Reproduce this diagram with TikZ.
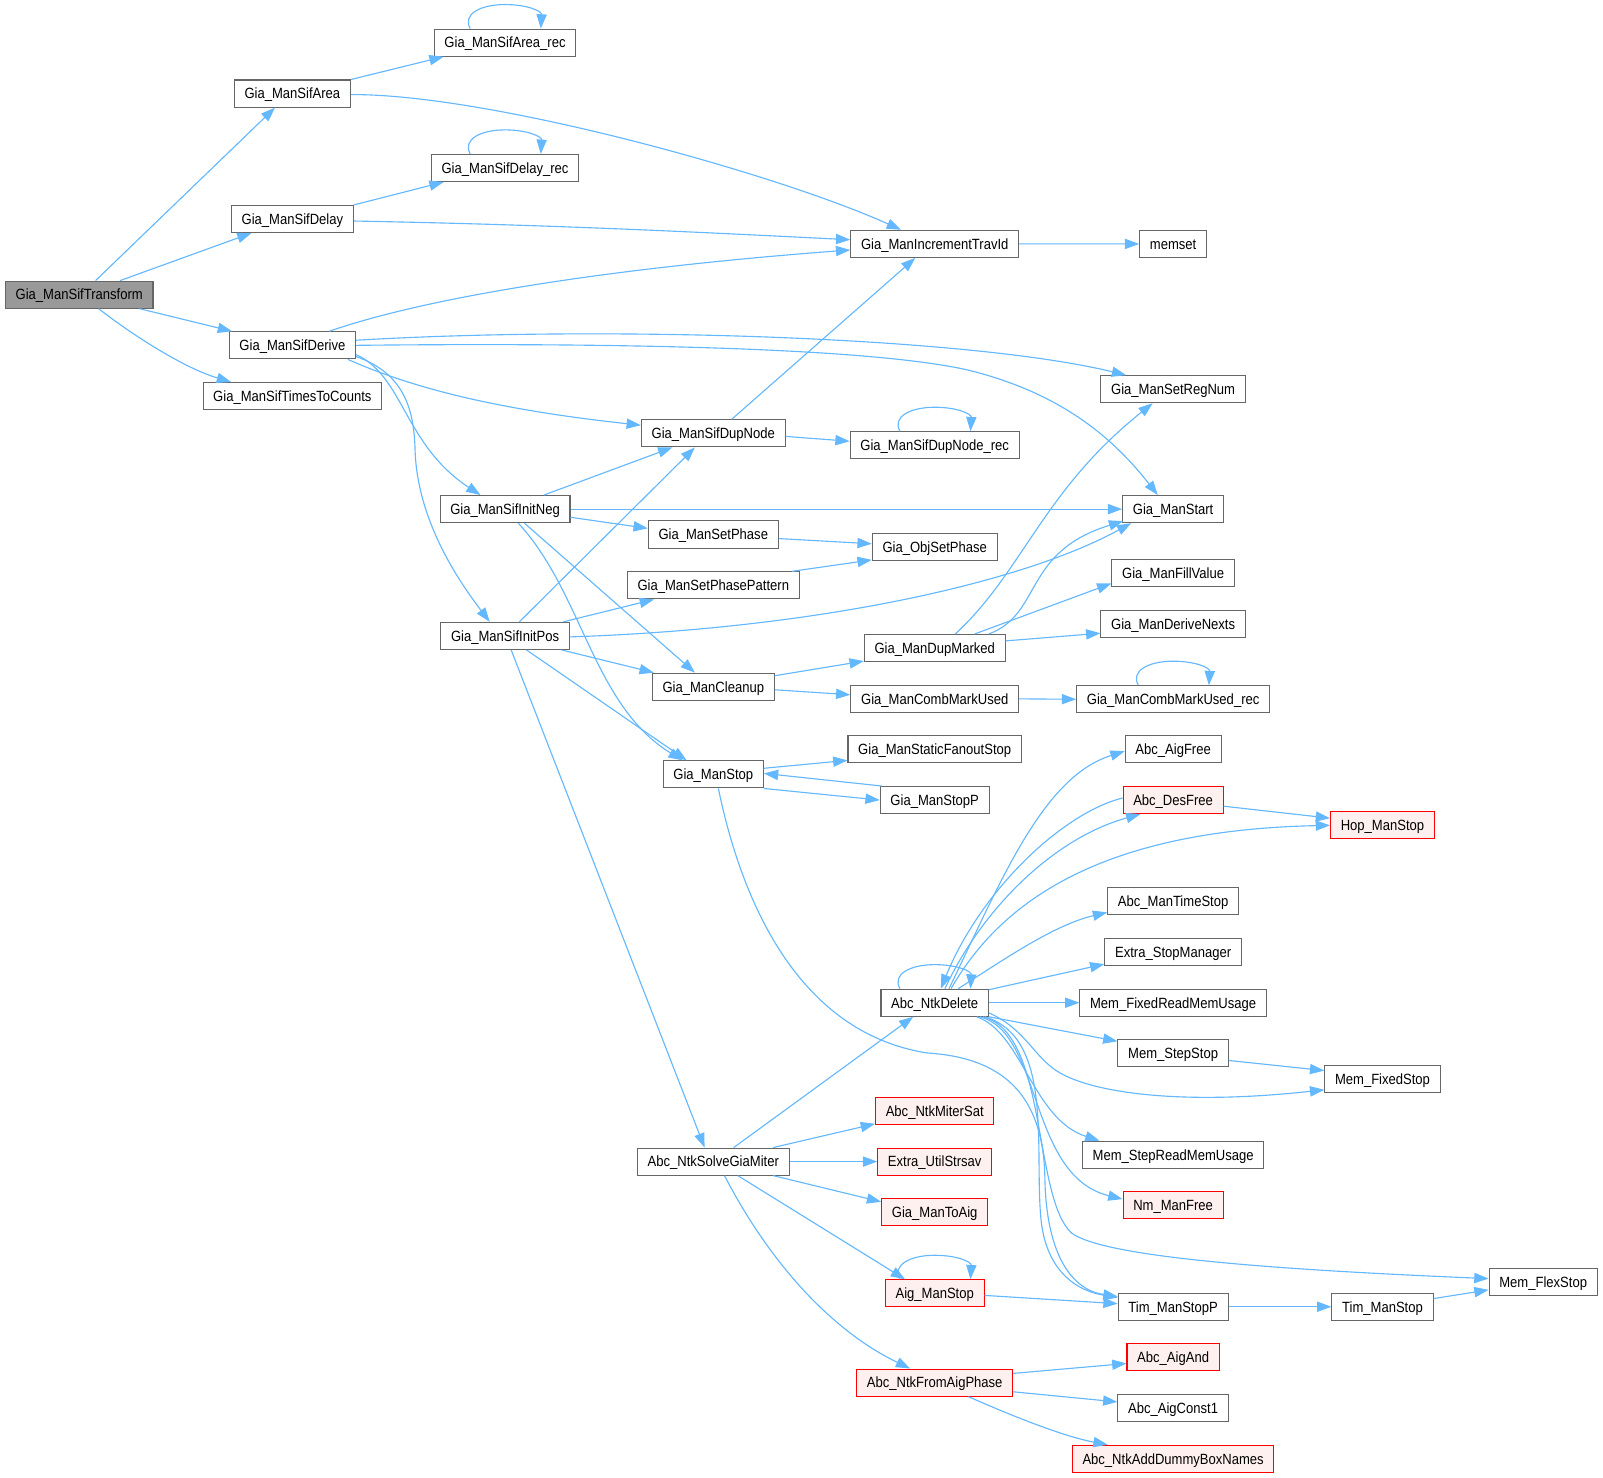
\documentclass[tikz,border=0pt]{standalone}
\usepackage{fontspec}
\setmainfont{Liberation Sans}[FakeStretch=0.88]
\usetikzlibrary{arrows.meta,calc}
\definecolor{edgec}{HTML}{63B8FF}
\definecolor{nodeb}{HTML}{666666}
\definecolor{redfill}{HTML}{FFF0F0}
\definecolor{rootfill}{HTML}{999999}
\newcommand\nfnt{\fontsize{14.5}{17}\selectfont}
\newcommand\selfloop[1]{\draw[cedge] ($(#1.north)+(-34,0)$) .. controls ($(#1.north)+(-42,-14)$) and ($(#1.north)+(-24,-23.5)$) .. ($(#1.north)+(0,-23.5)$) .. controls ($(#1.north)+(22,-23.5)$) and ($(#1.north)+(36,-17)$) .. ($(#1.north)+(35,0)$);}
\tikzset{
  fn/.style={draw=nodeb, fill=white, line width=1pt, minimum height=26.5pt, inner xsep=10pt, inner ysep=0pt, text height=10.4pt, text depth=0pt, font=\nfnt},
  rn/.style={fn, draw=red, fill=redfill},
  root/.style={fn, fill=rootfill},
  cedge/.style={draw=edgec, line width=1.1pt, -{Triangle[length=14pt,width=10pt]}}
}
\begin{document}
\begin{tikzpicture}[x=1pt,y=-1pt]
\fill[white] (0,0) rectangle (1568,1445);
\useasboundingbox (0,0) rectangle (1568,1445);
\node[root] (tr) at (77.5,288.2) {Gia\_ManSifTransform};
\node[fn] (ar) at (286,91.5) {Gia\_ManSifArea};
\node[fn] (arr) at (494,41.7) {Gia\_ManSifArea\_rec};
\node[fn] (de) at (286,214.2) {Gia\_ManSifDelay};
\node[fn] (der) at (494,164.3) {Gia\_ManSifDelay\_rec};
\node[fn] (dv) at (286,337.8) {Gia\_ManSifDerive};
\node[fn] (ttc) at (286,387.4) {Gia\_ManSifTimesToCounts};
\node[fn] (inc) at (914.3,238.5) {Gia\_ManIncrementTravId};
\node[fn] (mem) at (1147.5,238.6) {memset};
\node[fn] (srn) at (1147.5,380.7) {Gia\_ManSetRegNum};
\node[fn] (dn) at (697.7,423.9) {Gia\_ManSifDupNode};
\node[fn] (dnr) at (914.3,435.6) {Gia\_ManSifDupNode\_rec};
\node[fn] (neg) at (494,498) {Gia\_ManSifInitNeg};
\node[fn] (st) at (1147.5,498) {Gia\_ManStart};
\node[fn] (sp) at (697.7,522.8) {Gia\_ManSetPhase};
\node[fn] (osp) at (914.3,534.9) {Gia\_ObjSetPhase};
\node[fn] (spp) at (697.7,572.6) {Gia\_ManSetPhasePattern};
\node[fn] (fv) at (1147.5,560.7) {Gia\_ManFillValue};
\node[fn] (pos) at (494,622) {Gia\_ManSifInitPos};
\node[fn] (dnx) at (1147.5,610.4) {Gia\_ManDeriveNexts};
\node[fn] (dm) at (914.3,633.9) {Gia\_ManDupMarked};
\node[fn] (cl) at (697.7,671.7) {Gia\_ManCleanup};
\node[fn] (cmu) at (914.3,683.6) {Gia\_ManCombMarkUsed};
\node[fn] (cmr) at (1147.5,684) {Gia\_ManCombMarkUsed\_rec};
\node[fn] (sfs) at (914.3,733) {Gia\_ManStaticFanoutStop};
\node[fn] (af) at (1147.5,732.8) {Abc\_AigFree};
\node[fn] (gs) at (697.7,757.5) {Gia\_ManStop};
\node[fn] (gsp) at (914.3,782.6) {Gia\_ManStopP};
\node[rn] (df) at (1147.5,782.6) {Abc\_DesFree};
\node[rn] (hop) at (1352.3,807.3) {Hop\_ManStop};
\node[fn] (mts) at (1147.5,881.7) {Abc\_ManTimeStop};
\node[fn] (esm) at (1147.5,931.3) {Extra\_StopManager};
\node[fn] (nd) at (914.3,980.8) {Abc\_NtkDelete};
\node[fn] (mfr) at (1147.5,980.8) {Mem\_FixedReadMemUsage};
\node[fn] (mss) at (1147.5,1030.3) {Mem\_StepStop};
\node[fn] (mfs) at (1352.3,1055.2) {Mem\_FixedStop};
\node[rn] (nms) at (914.3,1086.5) {Abc\_NtkMiterSat};
\node[fn] (msr) at (1147.5,1129.5) {Mem\_StepReadMemUsage};
\node[fn] (sgm) at (697.7,1136.2) {Abc\_NtkSolveGiaMiter};
\node[rn] (eus) at (914.3,1136.2) {Extra\_UtilStrsav};
\node[rn] (nmf) at (1147.5,1178.9) {Nm\_ManFree};
\node[rn] (gta) at (914.3,1185.6) {Gia\_ManToAig};
\node[fn] (mflex) at (1509.5,1253.7) {Mem\_FlexStop};
\node[rn] (ams) at (914.3,1265.1) {Aig\_ManStop};
\node[fn] (tsp) at (1147.5,1278.2) {Tim\_ManStopP};
\node[fn] (tms) at (1352.3,1278.2) {Tim\_ManStop};
\node[rn] (aand) at (1147.5,1327.7) {Abc\_AigAnd};
\node[rn] (nfa) at (914.3,1352.4) {Abc\_NtkFromAigPhase};
\node[fn] (ac1) at (1147.5,1377.3) {Abc\_AigConst1};
\node[rn] (adb) at (1147.5,1426.9) {Abc\_NtkAddDummyBoxNames};
% edges
\draw[cedge] ($(tr.north)+(16,0)$) -- ($(ar.south)+(-17,0)$);
\draw[cedge] ($(tr.north)+(40,0)$) -- ($(de.south)+(-40,0)$);
\draw[cedge] ($(tr.south)+(59,0)$) -- ($(dv.north)+(-59,0)$);
\draw[cedge] ($(tr.south)+(19,0)$) .. controls (130,328) and (180,360) .. ($(ttc.north)+(-60,0)$);
\draw[cedge] (ar.north east) -- ($(arr.south)+(-60,0)$);
\draw[cedge] ($(ar.east)+(0,1)$) .. controls (480,92) and (760,170) .. ($(inc.north)+(-33,0)$);
\draw[cedge] (de.north east) -- ($(der.south)+(-60,0)$);
\draw[cedge] ($(de.east)+(0,2)$) .. controls (550,220) and (700,228) .. ($(inc.west)+(0,-4)$);
\draw[cedge] ($(dv.north)+(36,0)$) .. controls (420,290) and (600,262) .. ($(inc.west)+(0,6)$);
\draw[cedge] ($(dv.east)+(0,-5)$) .. controls (600,318) and (950,330) .. ($(srn.north)+(-46,0)$);
\draw[cedge] (dv.east) .. controls (600,335) and (850,340) .. (947,362) .. controls (1040,385) and (1090,430) .. ($(st.north)+(-15,0)$);
\draw[cedge] ($(dv.south east)+(-8,0)$) .. controls (400,378) and (480,400) .. ($(dn.west)+(0,-8)$);
\draw[cedge] ($(dv.east)+(0,9)$) .. controls (395,368) and (395,435) .. ($(neg.north)+(-24,0)$);
\draw[cedge] ($(dv.east)+(0,11)$) .. controls (395,365) and (405,400) .. (406,440) .. controls (408,510) and (450,570) .. ($(pos.north)+(-15,0)$);
\draw[cedge] (inc.east) -- (mem.west);
\draw[cedge] ($(dn.north)+(18,0)$) -- ($(inc.south)+(-19,0)$);
\draw[cedge] ($(dn.east)+(0,3)$) -- ($(dnr.west)+(0,-4)$);
\draw[cedge] ($(neg.north)+(38,0)$) -- ($(dn.south)+(-40,0)$);
\draw[cedge] (neg.east) -- (st.west);
\draw[cedge] ($(neg.east)+(0,8)$) -- ($(sp.west)+(0,-6)$);
\draw[cedge] ($(neg.south)+(19,0)$) -- ($(cl.north)+(-18,0)$);
\draw[cedge] ($(neg.south)+(13,0)$) .. controls (570,580) and (580,690) .. ($(gs.north)+(-30,0)$);
\draw[cedge] ($(pos.north)+(14,0)$) -- ($(dn.south)+(-18,0)$);
\draw[cedge] ($(pos.north)+(57,0)$) -- ($(spp.south)+(-58,0)$);
\draw[cedge] ($(pos.east)+(0,1)$) .. controls (800,615) and (1000,570) .. ($(st.south)+(-41,0)$);
\draw[cedge] ($(pos.south east)+(-8,0)$) -- ($(cl.north west)+(2,0)$);
\draw[cedge] ($(pos.south)+(21,0)$) -- ($(gs.north)+(-26,0)$);
\draw[cedge] ($(pos.south)+(6,0)$) -- ($(sgm.north)+(-8.5,0)$);
\draw[cedge] ($(sp.east)+(0,4)$) -- ($(osp.west)+(0,-3)$);
\draw[cedge] ($(spp.north)+(77,0)$) -- ($(osp.south west)+(0,-1)$);
\draw[cedge] ($(cl.north east)+(0,3)$) -- ($(dm.south west)+(0,-1)$);
\draw[cedge] ($(cl.east)+(0,3)$) -- ($(cmu.west)+(0,-4)$);
\draw[cedge] ($(dm.north)+(20,0)$) .. controls (1000,560) and (1020,480) .. ($(srn.south)+(-20,0)$);
\draw[cedge] ($(dm.north)+(53,0)$) .. controls (1020,600) and (1000,540) .. ($(st.south west)+(1,-2)$);
\draw[cedge] ($(dm.north)+(39,0)$) -- ($(fv.west)+(0,10)$);
\draw[cedge] ($(dm.east)+(0,-7)$) -- ($(dnx.west)+(0,9)$);
\draw[cedge] (cmu.east) -- (cmr.west);
\draw[cedge] ($(gs.east)+(0,-6)$) -- ($(sfs.south west)+(0,-3)$);
\draw[cedge] ($(gsp.north west)+(2,0)$) -- ($(gs.east)+(0,-1)$);
\draw[cedge] (gs.south east) -- (gsp.west);
\draw[cedge] ($(gs.south)+(5,0)$) .. controls (725,880) and (780,1010) .. (907,1030) .. controls (990,1035) and (1020,1080) .. (1022,1150) .. controls (1023,1230) and (1050,1262) .. ($(tsp.west)+(0,-10)$);
\draw[cedge] ($(nd.south east)+(-4,0)$) .. controls (1030,1015) and (1012,1120) .. (1018,1190) .. controls (1022,1240) and (1050,1262) .. ($(tsp.west)+(0,-9)$);
\draw[cedge] ($(nd.south east)+(-12,0)$) .. controls (1000,1010) and (1010,1095) .. ($(msr.north)+(-72,0)$);
\draw[cedge] ($(nd.south east)+(-9,0)$) .. controls (1020,1010) and (1005,1150) .. ($(nmf.west)+(0,-6)$);
\draw[cedge] ($(nd.south east)+(-6,0)$) .. controls (1025,1010) and (1010,1170) .. (1048,1206) .. controls (1080,1230) and (1250,1242) .. ($(mflex.west)+(0,-3)$);
\draw[cedge] (nd.south east) -- ($(mss.north west)+(0,2)$);
\draw[cedge] ($(nd.east)+(0,10)$) .. controls (1000,1005) and (1010,1030) .. (1030,1045) .. controls (1060,1068) and (1150,1082) .. ($(mfs.south west)+(0,-3)$);
\draw[cedge] (nd.east) -- (mfr.west);
\draw[cedge] ($(nd.north east)+(0,1)$) -- ($(esm.south west)+(0,-2)$);
\draw[cedge] ($(nd.north)+(23,0)$) .. controls (980,940) and (1030,905) .. ($(mts.south west)+(0,-3)$);
\draw[cedge] ($(nd.north)+(16,0)$) .. controls (980,880) and (1080,812) .. (hop.west);
\draw[cedge] ($(nd.north)+(10,0)$) .. controls (960,890) and (1030,820) .. ($(df.south)+(-32,0)$);
\draw[cedge] ($(df.west)+(0,-2)$) .. controls (1040,795) and (960,870) .. ($(nd.north)+(6,0)$);
\draw[cedge] ($(nd.north)+(14,0)$) .. controls (980,860) and (1020,760) .. ($(af.west)+(0,2)$);
\selfloop{nd}
\draw[cedge] ($(sgm.north)+(20,0)$) -- ($(nd.south)+(-21,0)$);
\draw[cedge] ($(sgm.north east)+(-16,0)$) -- ($(nms.south west)+(0,-1)$);
\draw[cedge] (sgm.east) -- (eus.west);
\draw[cedge] ($(sgm.south east)+(-16,0)$) -- ($(gta.west)+(0,-10)$);
\draw[cedge] ($(sgm.south)+(24,0)$) -- ($(ams.north)+(-29,0)$);
\draw[cedge] ($(sgm.south)+(11,0)$) .. controls (750,1230) and (810,1300) .. ($(nfa.north)+(-24,0)$);
\selfloop{ams}
\draw[cedge] ($(ams.east)+(0,2)$) -- ($(tsp.west)+(0,-3)$);
\draw[cedge] (tsp.east) -- (tms.west);
\draw[cedge] ($(tms.east)+(0,-8)$) -- ($(mflex.west)+(0,8)$);
\draw[cedge] ($(nfa.east)+(0,-9)$) -- ($(aand.west)+(0,6)$);
\draw[cedge] ($(nfa.east)+(0,9)$) -- ($(ac1.west)+(0,-6)$);
\draw[cedge] ($(nfa.south)+(33,0)$) .. controls (990,1385) and (1040,1405) .. ($(adb.north)+(-64,0)$);
\draw[cedge] ($(mss.east)+(0,7)$) -- ($(mfs.west)+(0,-8)$);
\draw[cedge] ($(df.east)+(0,6)$) -- ($(hop.west)+(0,-7)$);
\selfloop{arr}
\selfloop{der}
\selfloop{dnr}
\selfloop{cmr}
\end{tikzpicture}
\end{document}
